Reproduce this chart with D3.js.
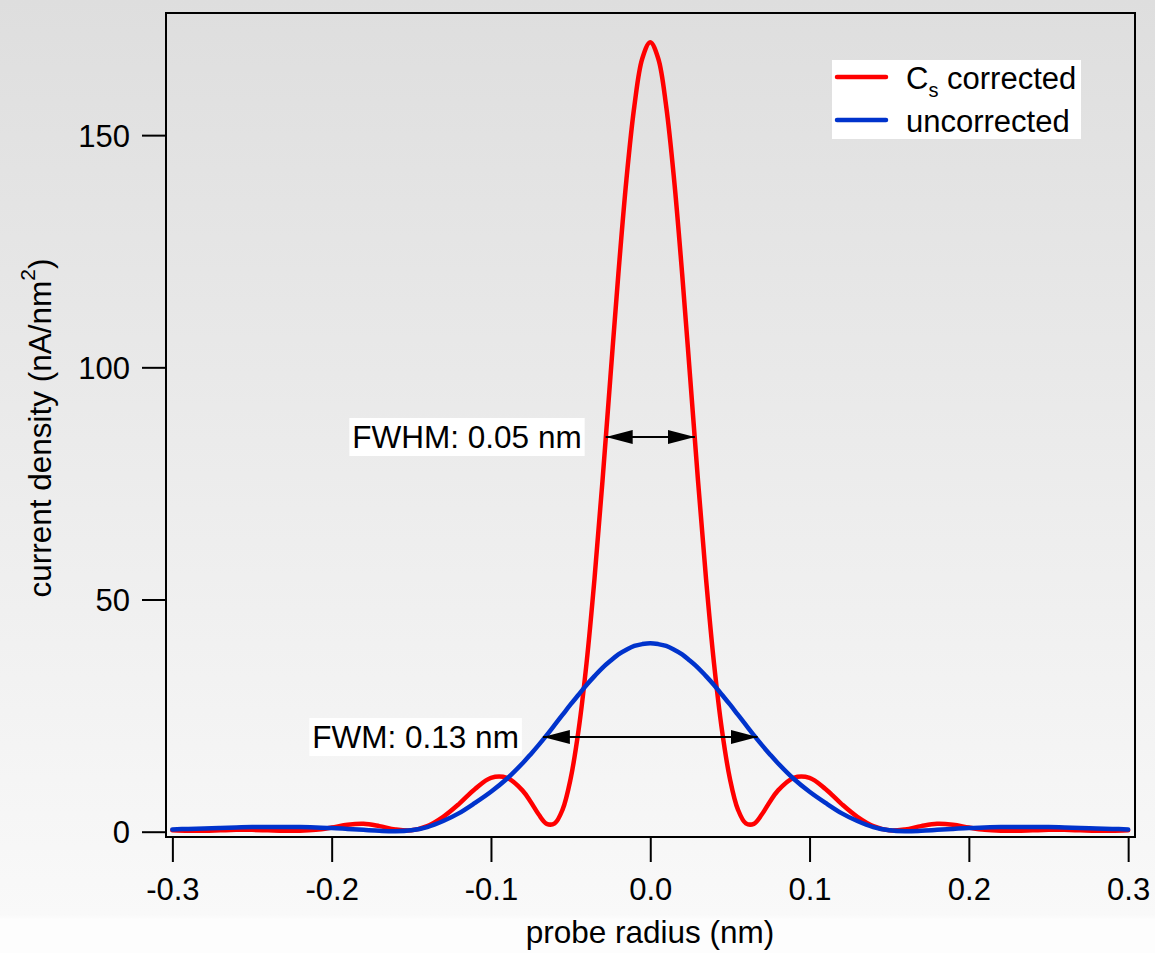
<!DOCTYPE html>
<html>
<head>
<meta charset="utf-8">
<script src="https://cdn.jsdelivr.net/npm/d3@7"></script>
<style>
  body { margin: 0; }
  svg { display: block; font-family: "Liberation Sans", Arial, sans-serif; }
</style>
</head>
<body>
<svg id="chart" width="1155" height="953"></svg>
<script>
// probe radius (nm), finer steps around the central peak
var radius = [
  -0.30, -0.29, -0.28, -0.27, -0.26, -0.25, -0.24, -0.23, -0.22, -0.21,
  -0.20, -0.19, -0.18, -0.17, -0.16, -0.15, -0.14, -0.13, -0.12, -0.11,
  -0.10, -0.09, -0.08, -0.075, -0.07, -0.065, -0.06, -0.055, -0.05, -0.045,
  -0.04, -0.035, -0.03, -0.025, -0.02, -0.015, -0.01, -0.005, 0.0,
  0.005, 0.01, 0.015, 0.02, 0.025, 0.03, 0.035, 0.04, 0.045, 0.05,
  0.055, 0.06, 0.065, 0.07, 0.075, 0.08, 0.09, 0.10, 0.11, 0.12,
  0.13, 0.14, 0.15, 0.16, 0.17, 0.18, 0.19, 0.20, 0.21, 0.22,
  0.23, 0.24, 0.25, 0.26, 0.27, 0.28, 0.29, 0.30
];

// current density (nA/nm^2), Cs corrected probe
var corrected = [
  0.3, 0.2, 0.2, 0.3, 0.4, 0.4, 0.3, 0.2, 0.2, 0.4,
  0.9, 1.5, 1.7, 1.2, 0.5, 0.3, 1.2, 3.2, 6.0, 9.2,
  11.6, 11.6, 8.8, 6.4, 3.7, 1.7, 1.8, 4.8, 11.4, 21.9,
  36.3, 54.5, 75.5, 98.0, 120.2, 140.3, 156.2, 166.5, 170.0,
  166.5, 156.2, 140.3, 120.2, 98.0, 75.5, 54.5, 36.3, 21.9, 11.4,
  4.8, 1.8, 1.7, 3.7, 6.4, 8.8, 11.6, 11.6, 9.2, 6.0,
  3.2, 1.2, 0.3, 0.5, 1.2, 1.7, 1.5, 0.9, 0.4, 0.2,
  0.2, 0.3, 0.4, 0.4, 0.3, 0.2, 0.2, 0.3
];

// current density (nA/nm^2), uncorrected probe
var uncorrected = [
  0.5, 0.6, 0.7, 0.8, 0.9, 1.0, 1.0, 1.0, 1.0, 0.9,
  0.8, 0.6, 0.4, 0.2, 0.1, 0.3, 1.0, 2.3, 4.0, 6.2,
  8.6, 11.4, 14.8, 16.7, 18.7, 20.8, 23.0, 25.2, 27.4, 29.5,
  31.6, 33.5, 35.3, 36.8, 38.2, 39.2, 40.0, 40.4, 40.6,
  40.4, 40.0, 39.2, 38.2, 36.8, 35.3, 33.5, 31.6, 29.5, 27.4,
  25.2, 23.0, 20.8, 18.7, 16.7, 14.8, 11.4, 8.6, 6.2, 4.0,
  2.3, 1.0, 0.3, 0.1, 0.2, 0.4, 0.6, 0.8, 0.9, 1.0,
  1.0, 1.0, 1.0, 0.9, 0.8, 0.7, 0.6, 0.5
];

var xTicks = [-0.3, -0.2, -0.1, 0.0, 0.1, 0.2, 0.3];
var yTicks = [0, 50, 100, 150];

var seriesNames = ["corrected", "uncorrected"];
var seriesColors = ["#ff0000", "#0033cc"];

// width markers: [r1, r2, level, label]
var fwhm = [-0.028, 0.028, 85, "FWHM: 0.05 nm"];
var fwm = [-0.0674, 0.0674, 20.4, "FWM: 0.13 nm"];

var svg = d3.select("#chart");
var W = 1155, H = 953;
// plot frame edges (careful: "top" is taken by window.top)
var mLeft = 166, mRight = 1135, mTop = 13, mBottom = 837;

// background gradient, grey at the top fading to white
var defs = svg.append("defs");
var grad = defs.append("linearGradient").attr("id", "bg")
  .attr("x1", 0).attr("y1", 0).attr("x2", 0).attr("y2", 1);
grad.append("stop").attr("offset", "0%").attr("stop-color", "#dedede");
grad.append("stop").attr("offset", "96%").attr("stop-color", "#f9f9f9");
grad.append("stop").attr("offset", "96.5%").attr("stop-color", "#fdfdfd");
grad.append("stop").attr("offset", "100%").attr("stop-color", "#fdfdfd");
svg.append("rect").attr("width", W).attr("height", H).attr("fill", "url(#bg)");

defs.append("marker").attr("id", "head")
  .attr("viewBox", "0 0 27 14").attr("refX", 27).attr("refY", 7)
  .attr("markerWidth", 27).attr("markerHeight", 14)
  .attr("markerUnits", "userSpaceOnUse").attr("orient", "auto-start-reverse")
  .append("path").attr("d", "M0,0L27,7L0,14Z").attr("fill", "#000");

defs.append("clipPath").attr("id", "clip")
  .append("rect").attr("x", mLeft).attr("y", mTop)
  .attr("width", mRight - mLeft).attr("height", mBottom - mTop);

var x = d3.scaleLinear().domain([-0.304, 0.3043]).range([mLeft, mRight]);
var y = d3.scaleLinear().domain([-1.14, 176.3]).range([mBottom, mTop]);

// plain hyphen for negatives like the original
var fmt = function(d) { return d3.format(".1f")(d).replace("\u2212", "-"); };

// axes, ticks pointing out of the frame
var xAxis = svg.append("g").attr("transform", "translate(0," + mBottom + ")")
  .call(d3.axisBottom(x).tickValues(xTicks).tickFormat(fmt)
    .tickSize(25).tickPadding(16));
var yAxis = svg.append("g").attr("transform", "translate(" + mLeft + ",0)")
  .call(d3.axisLeft(y).tickValues(yTicks).tickSize(24).tickPadding(12));

[xAxis, yAxis].forEach(function(a) {
  a.attr("font-size", 31).attr("font-family", "Liberation Sans, Arial, sans-serif");
  a.select(".domain").remove();
  a.selectAll("line").attr("stroke", "#000").attr("stroke-width", 2);
  a.selectAll("text").attr("fill", "#000");
});
yAxis.selectAll("text").attr("dy", "0.36em");

// curves
var line = d3.line()
  .x(function(d) { return x(d[0]); })
  .y(function(d) { return y(d[1]); })
  .curve(d3.curveCatmullRom.alpha(0.5));

var plot = svg.append("g").attr("clip-path", "url(#clip)");
[corrected, uncorrected].forEach(function(vals, i) {
  plot.append("path")
    .datum(radius.map(function(r, j) { return [r, vals[j]]; }))
    .attr("fill", "none")
    .attr("stroke", seriesColors[i])
    .attr("stroke-width", 4.5)
    .attr("stroke-linejoin", "round")
    .attr("stroke-linecap", "round")
    .attr("d", line);
});

// frame
svg.append("rect").attr("x", mLeft).attr("y", mTop)
  .attr("width", mRight - mLeft).attr("height", mBottom - mTop)
  .attr("fill", "none").attr("stroke", "#000").attr("stroke-width", 2);

// width annotations
[fwhm, fwm].forEach(function(a) {
  var yy = y(a[2]);
  svg.append("line")
    .attr("x1", x(a[0])).attr("x2", x(a[1]))
    .attr("y1", yy).attr("y2", yy)
    .attr("stroke", "#000").attr("stroke-width", 2)
    .attr("marker-start", "url(#head)").attr("marker-end", "url(#head)");
  var g = svg.append("g");
  var t = g.append("text")
    .attr("x", x(a[0]) - 24).attr("y", yy + 11)
    .attr("text-anchor", "end").attr("font-size", 31.5).attr("fill", "#000")
    .text(a[3]);
  var bb = t.node().getBBox();
  g.insert("rect", "text")
    .attr("x", bb.x - 3).attr("y", bb.y - 1)
    .attr("width", bb.width + 6).attr("height", bb.height + 2)
    .attr("fill", "#fff");
});

// legend
var legend = svg.append("g");
legend.append("rect").attr("x", 832).attr("y", 60)
  .attr("width", 249).attr("height", 79).attr("fill", "#fff");
seriesNames.forEach(function(n, i) {
  var ly = 77 + i * 43;
  legend.append("line").attr("x1", 837).attr("x2", 886)
    .attr("y1", ly).attr("y2", ly)
    .attr("stroke", seriesColors[i]).attr("stroke-width", 4.5)
    .attr("stroke-linecap", "round");
});
var l1 = legend.append("text").attr("x", 906).attr("y", 89)
  .attr("font-size", 31).attr("fill", "#000");
l1.append("tspan").text("C");
l1.append("tspan").attr("font-size", 20).attr("dy", 8).text("s");
l1.append("tspan").attr("dy", -8).text(" corrected");
legend.append("text").attr("x", 906).attr("y", 132)
  .attr("font-size", 31).attr("fill", "#000").text("uncorrected");

// axis titles
svg.append("text").attr("x", 650).attr("y", 943)
  .attr("text-anchor", "middle").attr("font-size", 31.5).attr("fill", "#000")
  .text("probe radius (nm)");

var yt = svg.append("text")
  .attr("transform", "translate(51,428) rotate(-90)")
  .attr("text-anchor", "middle").attr("font-size", 31.5).attr("fill", "#000");
yt.append("tspan").text("current density (nA/nm");
yt.append("tspan").attr("font-size", 21).attr("dy", -16).text("2");
yt.append("tspan").attr("dy", 16).text(")");
</script>
</body>
</html>
